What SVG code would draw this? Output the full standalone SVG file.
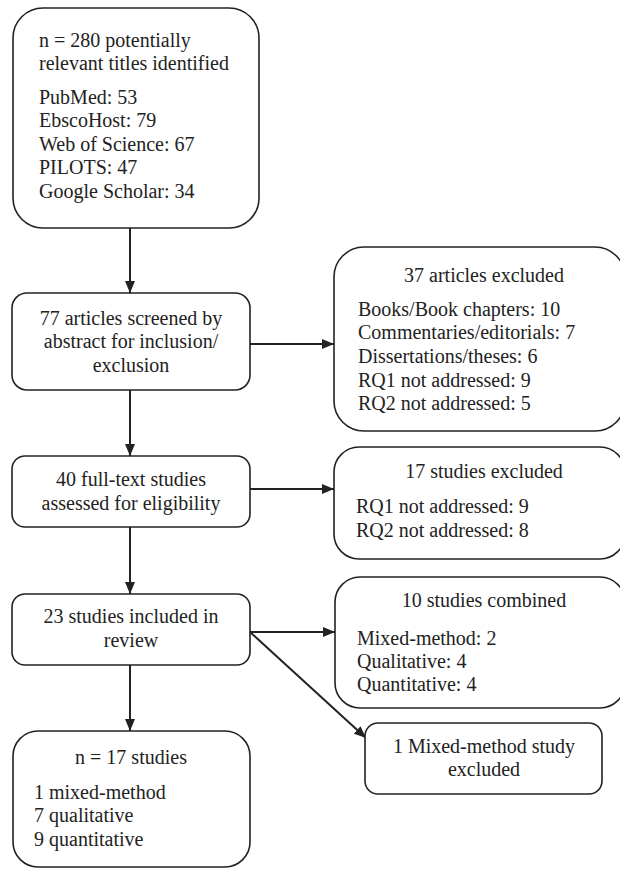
<svg xmlns="http://www.w3.org/2000/svg" width="620" height="870" viewBox="0 0 620 870">
<defs>
<style>
.box{fill:#fff;stroke:#222;stroke-width:1.6}
text{font-family:'Liberation Serif','Times New Roman',Times,'DejaVu Serif',serif;font-size:20px;fill:#222}
.c{text-anchor:middle}
.edge{stroke:#222;stroke-width:2;fill:none}
</style>
<marker id="ah" viewBox="0 0 12 10" refX="12" refY="5" markerWidth="12" markerHeight="10" markerUnits="userSpaceOnUse" orient="auto">
<path d="M0,0 L12,5 L0,10 Z" fill="#222"/>
</marker>
</defs>
<rect width="620" height="870" fill="#fff"/>
<g id="connectors">
<line class="edge" x1="130" y1="228" x2="130" y2="293" marker-end="url(#ah)"/>
<line class="edge" x1="130" y1="390" x2="130" y2="456" marker-end="url(#ah)"/>
<line class="edge" x1="130" y1="527" x2="130" y2="594" marker-end="url(#ah)"/>
<line class="edge" x1="130" y1="665" x2="130" y2="731" marker-end="url(#ah)"/>
<line class="edge" x1="250" y1="344" x2="334" y2="344" marker-end="url(#ah)"/>
<line class="edge" x1="250" y1="489" x2="334" y2="489" marker-end="url(#ah)"/>
<line class="edge" x1="250" y1="632" x2="335" y2="632" marker-end="url(#ah)"/>
<line class="edge" x1="250" y1="632" x2="366" y2="738" marker-end="url(#ah)"/>
</g>
<g id="n1">
<rect class="box" x="13" y="8" width="246" height="220" rx="30"/>
<text x="39" y="47">n = 280 potentially</text>
<text x="39" y="70">relevant titles identified</text>
<text x="39" y="104">PubMed: 53</text>
<text x="39" y="127">EbscoHost: 79</text>
<text x="39" y="151">Web of Science: 67</text>
<text x="39" y="174">PILOTS: 47</text>
<text x="39" y="198">Google Scholar: 34</text>
</g>
<g id="n2">
<rect class="box" x="12" y="293" width="238" height="97" rx="15"/>
<text class="c" x="131" y="325">77 articles screened by</text>
<text class="c" x="131" y="348">abstract for inclusion/</text>
<text class="c" x="131" y="372">exclusion</text>
</g>
<g id="n3">
<rect class="box" x="12" y="456" width="238" height="71" rx="13"/>
<text class="c" x="131" y="486">40 full-text studies</text>
<text class="c" x="131" y="510">assessed for eligibility</text>
</g>
<g id="n4">
<rect class="box" x="334" y="247" width="291" height="184" rx="30"/>
<text class="c" x="484" y="282">37 articles excluded</text>
<text x="358" y="316">Books/Book chapters: 10</text>
<text x="358" y="339">Commentaries/editorials: 7</text>
<text x="358" y="363">Dissertations/theses: 6</text>
<text x="358" y="387">RQ1 not addressed: 9</text>
<text x="358" y="410">RQ2 not addressed: 5</text>
</g>
<g id="n5">
<rect class="box" x="334" y="447" width="291" height="112" rx="25"/>
<text class="c" x="484" y="478">17 studies excluded</text>
<text x="356" y="513">RQ1 not addressed: 9</text>
<text x="356" y="537">RQ2 not addressed: 8</text>
</g>
<g id="n6">
<rect class="box" x="12" y="594" width="238" height="71" rx="13"/>
<text class="c" x="131" y="623">23 studies included in</text>
<text class="c" x="131" y="647">review</text>
</g>
<g id="n7">
<rect class="box" x="13" y="731" width="237" height="136" rx="25"/>
<text class="c" x="131" y="764">n = 17 studies</text>
<text x="34" y="799">1 mixed-method</text>
<text x="34" y="822">7 qualitative</text>
<text x="34" y="846">9 quantitative</text>
</g>
<g id="n8">
<rect class="box" x="335" y="577" width="290" height="131" rx="25"/>
<text class="c" x="484" y="607">10 studies combined</text>
<text x="357" y="645">Mixed-method: 2</text>
<text x="357" y="668">Qualitative: 4</text>
<text x="357" y="691">Quantitative: 4</text>
</g>
<g id="n9">
<rect class="box" x="365" y="723" width="237" height="71" rx="13"/>
<text class="c" x="484" y="753">1 Mixed-method study</text>
<text class="c" x="484" y="776">excluded</text>
</g>
</svg>
